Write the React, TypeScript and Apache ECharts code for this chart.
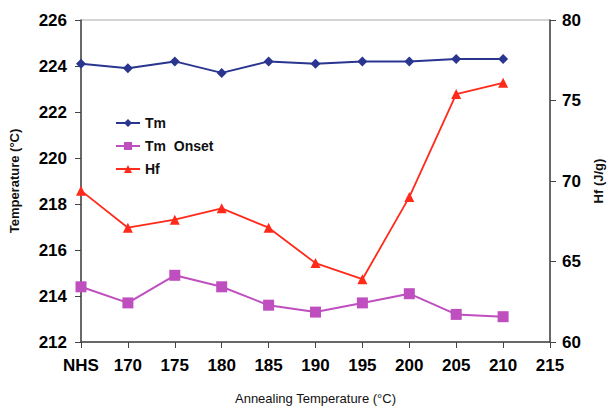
import React, { useEffect, useRef } from "react";
import * as echarts from "echarts";

const categories = ["NHS", "170", "175", "180", "185", "190", "195", "200", "205", "210", "215"];
const tmValues = [224.1, 223.9, 224.2, 223.7, 224.2, 224.1, 224.2, 224.2, 224.3, 224.3];
const tmOnsetValues = [214.4, 213.7, 214.9, 214.4, 213.6, 213.3, 213.7, 214.1, 213.2, 213.1];
const hfValues = [69.4, 67.1, 67.6, 68.3, 67.1, 64.9, 63.9, 69.0, 75.4, 76.1];
const leftTicks = { min: 212, max: 226, interval: 2 };
const rightTicks = { min: 60, max: 80, interval: 5 };

const FONT = "'Liberation Sans Narrow', 'Liberation Sans', Arial, sans-serif";
const SANS = "'Liberation Sans', Arial, sans-serif";

export default function App() {
  const ref = useRef<HTMLDivElement>(null);
  useEffect(() => {
    if (!ref.current) return;
    const chart = echarts.init(ref.current, undefined, { renderer: "svg" });
    const axisLabel = { color: "#000", fontFamily: FONT, fontWeight: "bold", fontSize: 17 };
    chart.setOption({
      animation: false,
      backgroundColor: "#fff",
      grid: {
        left: 79,
        right: 55,
        top: 20,
        bottom: 62,
        show: true,
        borderColor: "#aaa",
        borderWidth: 1,
        backgroundColor: "transparent",
      },
      legend: {
        orient: "vertical",
        left: 110,
        top: 111,
        itemWidth: 24,
        itemHeight: 10,
        itemGap: 9,
        textStyle: { fontFamily: SANS, fontWeight: "bold", fontSize: 14, color: "#111" },
        data: ["Tm", "Tm  Onset", "Hf"],
      },
      xAxis: {
        type: "category",
        data: categories,
        boundaryGap: false,
        name: "Annealing Temperature (°C)",
        nameLocation: "middle",
        nameGap: 50,
        nameTextStyle: { fontFamily: SANS, fontSize: 13, fontWeight: 500, color: "#111" },
        axisLine: { lineStyle: { color: "#444", width: 1.5 } },
        axisTick: { show: true, length: 6, lineStyle: { color: "#444" }, alignWithLabel: true },
        axisLabel: { ...axisLabel, margin: 15, interval: 0 },
        splitLine: { show: false },
      },
      yAxis: [
        {
          type: "value",
          min: leftTicks.min,
          max: leftTicks.max,
          interval: leftTicks.interval,
          name: "Temperature (°C)",
          nameLocation: "middle",
          nameGap: 60,
          nameRotate: 90,
          nameTextStyle: { fontFamily: SANS, fontWeight: "bold", fontSize: 13, color: "#111" },
          axisLine: { show: true, lineStyle: { color: "#444", width: 1.5 } },
          axisTick: { show: true, length: 6, lineStyle: { color: "#444" } },
          axisLabel: { ...axisLabel, margin: 14 },
          splitLine: { show: false },
        },
        {
          type: "value",
          min: rightTicks.min,
          max: rightTicks.max,
          interval: rightTicks.interval,
          position: "right",
          name: "Hf (J/g)",
          nameLocation: "middle",
          nameGap: 42,
          nameRotate: 90,
          nameTextStyle: { fontFamily: SANS, fontWeight: "bold", fontSize: 13, color: "#111" },
          axisLine: { show: true, lineStyle: { color: "#444", width: 1.5 } },
          axisTick: { show: true, inside: false, length: 6, lineStyle: { color: "#444" } },
          axisLabel: { ...axisLabel, margin: 12 },
          splitLine: { show: false },
        },
      ],
      series: [
        {
          name: "Tm",
          type: "line",
          yAxisIndex: 0,
          data: tmValues,
          symbol: "diamond",
          symbolSize: 10,
          color: "#2a3590",
          lineStyle: { width: 2, color: "#2a3590" },
          itemStyle: { color: "#2a3590" },
        },
        {
          name: "Tm  Onset",
          type: "line",
          yAxisIndex: 0,
          data: tmOnsetValues,
          symbol: "rect",
          symbolSize: 11,
          color: "#bf4fbf",
          lineStyle: { width: 2, color: "#bf4fbf" },
          itemStyle: { color: "#bf4fbf" },
        },
        {
          name: "Hf",
          type: "line",
          yAxisIndex: 1,
          data: hfValues,
          symbol: "triangle",
          symbolSize: 10,
          color: "#ff2a1a",
          lineStyle: { width: 1.8, color: "#ff2a1a" },
          itemStyle: { color: "#ff2a1a" },
        },
      ],
    });
    return () => chart.dispose();
  }, []);
  return (
    <div
      ref={ref}
      style={{ position: "absolute", left: 0, top: 0, width: 613, height: 410, background: "#fff" }}
    />
  );
}
